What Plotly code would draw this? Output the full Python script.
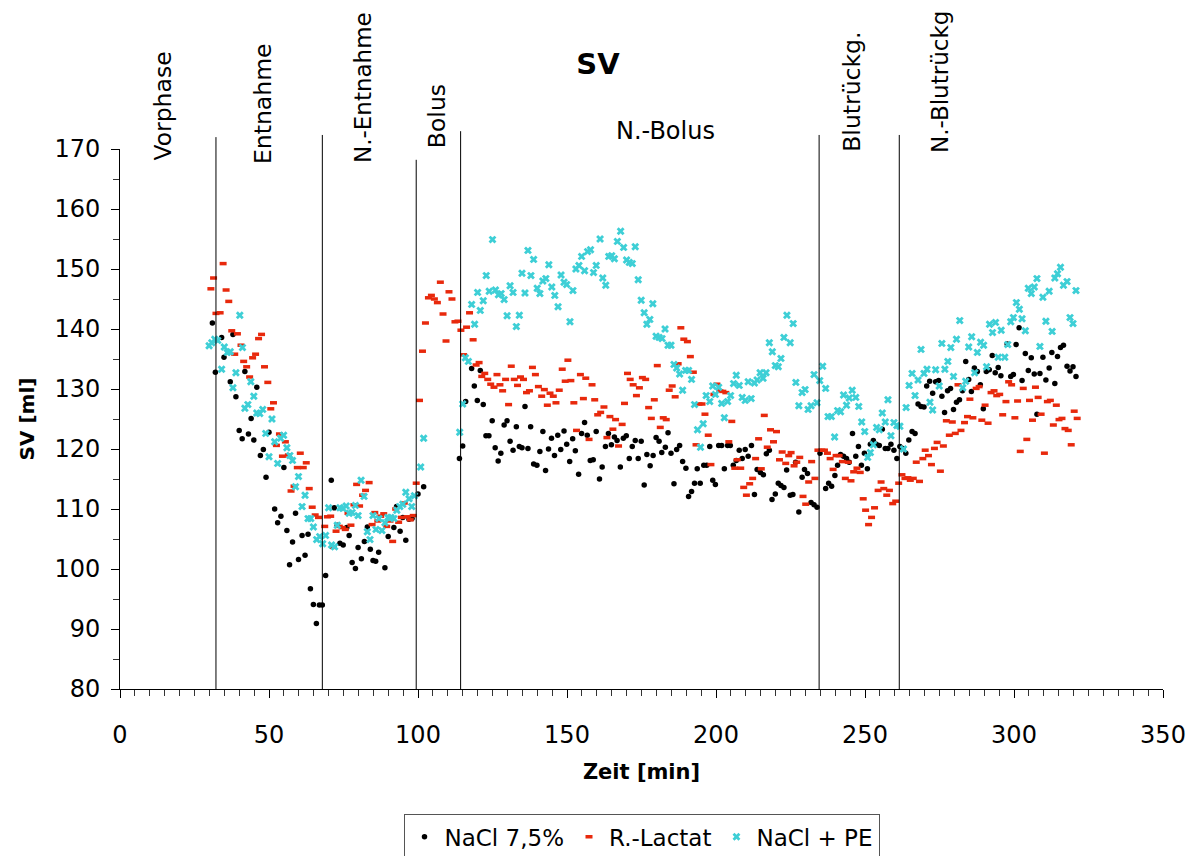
import plotly.graph_objects as go

# ---------------- data ----------------
nacl_t = [31.0, 32.0, 34.1, 34.9, 37.0, 37.9, 38.9, 40.0, 41.0, 41.9, 43.1, 44.0, 44.9, 45.9, 47.1, 48.1,
          49.0, 50.0, 51.9, 52.9, 54.0, 55.0, 56.0, 56.9, 57.9, 58.9, 59.9, 61.1, 62.1, 63.1, 63.9, 64.9,
          65.9, 66.9, 67.9, 69.0, 70.9, 71.9, 72.9, 73.8, 74.9, 76.1, 76.9, 77.9, 79.0, 79.9, 81.0, 82.0,
          83.0, 84.0, 84.9, 85.8, 86.8, 88.9, 90.0, 91.2, 91.9, 92.8, 94.0, 94.9, 95.9, 97.0, 98.0, 100.0,
          101.9, 113.9, 115.0, 116.0, 118.0, 118.9, 119.9, 120.9, 121.9, 122.8, 123.8, 124.9, 125.9, 126.9,
          127.8, 128.9, 129.9, 130.9, 131.9, 133.0, 134.0, 134.9, 135.9, 136.9, 137.8, 138.8, 139.9, 140.9,
          141.9, 142.8, 143.8, 144.8, 145.8, 146.9, 147.9, 149.0, 149.9, 150.9, 151.9, 152.8, 153.9, 154.9,
          155.9, 156.8, 157.8, 158.8, 159.8, 160.9, 161.8, 162.9, 163.9, 164.9, 165.9, 166.8, 167.9, 168.9,
          169.9, 170.9, 171.9, 172.9, 173.9, 174.9, 175.9, 176.8, 177.9, 178.9, 179.9, 180.9, 181.8, 183.0,
          183.9, 184.9, 185.9, 186.8, 187.8, 188.8, 189.9, 190.8, 191.8, 192.8, 193.7, 194.7, 195.9, 196.9,
          197.9, 198.9, 199.8, 200.9, 201.9, 202.8, 203.9, 204.8, 205.8, 206.8, 207.8, 208.8, 209.8, 210.8,
          211.9, 212.9, 213.8, 214.9, 215.9, 216.9, 217.9, 218.8, 219.9, 220.9, 221.8, 222.8, 223.7, 224.9,
          225.8, 226.7, 227.8, 228.9, 229.7, 230.7, 231.9, 232.9, 233.9, 234.9, 236.8, 237.8, 238.8, 239.9,
          240.8, 241.8, 242.8, 243.8, 244.7, 245.8, 246.9, 247.8, 248.8, 249.8, 250.8, 251.8, 252.8, 253.8,
          254.8, 255.8, 256.8, 257.7, 258.7, 259.7, 260.7, 261.7, 262.7, 263.7, 264.7, 265.8, 266.8, 267.8,
          268.8, 269.8, 270.7, 271.7, 272.7, 273.7, 274.7, 275.8, 276.7, 277.7, 278.7, 279.7, 280.7, 281.7,
          282.7, 283.8, 284.8, 285.7, 286.7, 287.7, 288.7, 289.7, 290.7, 291.7, 292.7, 293.7, 294.7, 295.6,
          297.7, 298.9, 299.8, 300.7, 301.7, 302.7, 303.8, 304.8, 305.8, 306.8, 307.7, 308.7, 309.7, 310.7,
          311.8, 312.7, 313.7, 314.6, 315.6, 316.6, 317.8, 318.8, 319.8, 320.8]
nacl_sv = [141.0, 132.8, 138.6, 135.3, 131.2, 139.1, 128.7, 123.1, 121.7, 132.9, 122.5, 125.1, 121.5, 130.3, 118.9, 119.9,
           115.3, 122.8, 110.0, 107.7, 108.8, 116.9, 106.4, 100.7, 104.5, 109.3, 101.6, 105.6, 102.3, 105.8, 96.7, 94.1,
           90.9, 94.0, 94.0, 98.9, 114.8, 110.2, 107.3, 104.3, 104.0, 106.9, 105.6, 101.1, 100.1, 103.6, 101.7, 104.6,
           107.0, 103.3, 101.4, 101.3, 102.8, 100.2, 105.4, 108.4, 106.9, 110.4, 106.3, 108.6, 104.8, 108.3, 108.4, 112.5,
           113.7, 118.4, 120.5, 127.9, 133.4, 130.5, 128.1, 133.1, 127.4, 122.2, 122.2, 124.7, 120.2, 118.0,
           119.3, 124.0, 124.7, 121.3, 119.8, 123.7, 120.4, 120.2, 127.1, 120.1, 123.7, 117.5, 117.3, 119.6,
           122.9, 116.4, 120.0, 121.8, 118.9, 122.3, 119.9, 123.0, 120.8, 117.9, 121.7, 119.7, 115.8, 122.6,
           124.4, 122.3, 118.1, 118.2, 122.9, 115.0, 117.0, 120.4, 122.6, 120.7, 122.0, 121.4, 117.0, 121.8,
           122.2, 118.4, 120.4, 121.4, 118.4, 121.3, 114.0, 119.1, 117.2, 118.9, 121.9, 121.3, 119.4, 120.3,
           122.7, 119.3, 114.2, 119.9, 120.6, 117.9, 116.8, 112.1, 112.9, 114.3, 116.7, 114.3, 117.3, 117.3,
           120.4, 114.8, 114.1, 120.6, 120.6, 116.7, 120.6, 120.6, 117.3, 118.1, 119.8, 118.4, 119.9, 118.8,
           120.6, 112.4, 116.6, 116.1, 115.7, 119.2, 119.8, 111.6, 112.5, 114.3, 113.9, 113.6, 116.5, 112.3,
           112.4, 117.8, 109.5, 115.3, 116.6, 115.9, 111.1, 110.7, 110.3, 119.3, 113.4, 114.3, 113.8, 115.6,
           117.3, 119.1, 118.8, 118.4, 117.8, 122.6, 118.8, 120.4, 117.3, 119.3, 116.7, 120.8, 121.4, 120.8,
           120.6, 123.3, 120.1, 120.1, 120.8, 119.8, 118.4, 120.4, 120.1, 119.3, 121.5, 122.9, 122.6, 127.5,
           127.1, 127.0, 130.5, 131.3, 129.3, 131.2, 131.4, 128.8, 126.1, 129.7, 130.1, 126.6, 127.8, 128.2,
           129.7, 134.6, 131.6, 129.6, 133.5, 132.9, 130.7, 126.7, 132.9, 133.2, 135.6, 132.7, 133.6, 132.2,
           137.5, 132.1, 132.4, 137.4, 140.2, 131.4, 135.9, 133.1, 135.2, 132.5, 125.8, 132.6, 135.3, 131.5,
           133.5, 136.1, 130.9, 135.4, 136.9, 137.3, 133.8, 133.0, 133.7, 132.1]

lactat_t = [30.5, 31.4, 32.2, 33.6, 34.6, 35.6, 36.5, 37.5, 38.5, 39.4, 40.6, 41.5, 42.5, 43.5, 44.5, 45.5,
            46.5, 47.5, 48.5, 49.6, 50.6, 51.5, 52.5, 53.5, 54.5, 55.5, 56.5, 57.4, 58.4, 59.5, 60.5, 61.5,
            62.5, 63.5, 64.5, 65.5, 66.6, 68.7, 69.6, 70.7, 71.6, 72.5, 73.6, 74.6, 75.6, 76.5, 77.5, 78.5,
            79.4, 80.4, 81.4, 82.4, 83.6, 84.6, 85.5, 86.5, 87.5, 88.5, 89.5, 90.6, 91.5, 92.5, 93.5, 94.4,
            95.4, 96.4, 97.4, 98.4, 99.4, 100.5, 101.5, 102.5, 103.5, 104.5, 105.5, 106.5, 107.5, 108.4, 109.4,
            110.4, 111.4, 112.4, 113.4, 114.4, 115.3, 116.3, 117.3, 118.5, 119.5, 120.5, 121.4, 122.4, 123.4,
            124.4, 125.5, 126.5, 127.5, 128.4, 129.4, 130.4, 131.3, 132.3, 133.4, 134.4, 135.4, 136.4, 137.4,
            138.4, 139.4, 140.4, 141.5, 142.4, 143.4, 144.3, 145.4, 146.3, 147.4, 148.4, 149.4, 150.3, 151.3,
            152.3, 153.2, 154.5, 155.5, 156.3, 157.4, 158.4, 159.3, 160.3, 161.3, 162.4, 163.4, 164.4, 165.4,
            166.3, 167.3, 168.5, 169.3, 170.3, 171.2, 172.2, 173.3, 174.3, 175.3, 176.4, 177.4, 178.3, 179.3,
            180.3, 181.3, 182.3, 183.3, 184.3, 185.3, 186.3, 187.3, 188.2, 189.2, 190.4, 191.4, 192.4, 193.3,
            194.3, 195.3, 196.3, 197.4, 198.3, 199.3, 200.3, 201.3, 202.3, 203.3, 204.3, 205.3, 206.3, 207.1,
            208.3, 209.3, 210.2, 211.3, 212.3, 213.3, 214.3, 215.2, 216.2, 217.2, 218.3, 219.3, 220.3, 221.3,
            222.2, 223.4, 224.4, 225.2, 226.2, 227.1, 228.1, 229.2, 230.1, 231.1, 232.1, 233.2, 234.2, 235.5,
            236.4, 237.4, 238.3, 239.3, 240.3, 241.3, 242.4, 243.4, 244.4, 245.3, 246.2, 247.3, 248.4, 249.4,
            250.2, 251.2, 252.2, 253.2, 254.4, 255.4, 256.3, 257.3, 258.2, 259.3, 260.3, 261.3, 262.4, 263.4,
            264.4, 265.2, 266.2, 267.2, 268.3, 269.4, 270.2, 271.3, 272.3, 273.3, 274.2, 275.3, 276.3, 277.3,
            278.3, 279.3, 280.3, 281.2, 282.2, 283.4, 284.4, 285.2, 286.2, 287.3, 288.3, 289.2, 290.3, 291.3,
            292.3, 293.3, 294.2, 295.2, 296.2, 297.3, 298.2, 299.2, 300.3, 301.2, 302.1, 303.1, 304.3, 305.2,
            306.2, 307.2, 308.1, 309.1, 310.2, 311.2, 312.2, 313.2, 314.2, 315.1, 316.1, 317.1, 318.2, 319.2,
            320.2, 321.2]
lactat_sv = [146.7, 148.5, 142.6, 142.7, 150.9, 146.5, 144.6, 139.7, 135.8, 139.2, 137.3, 134.6, 133.7, 132.0, 135.2, 135.8,
             138.4, 139.1, 133.7, 131.1, 126.7, 127.7, 120.6, 122.5, 118.8, 121.2, 119.0, 113.0, 113.8, 116.9, 119.3, 116.9,
             117.7, 113.4, 110.3, 109.0, 108.6, 107.1, 108.7, 108.8, 103.6, 106.3, 107.1, 106.9, 106.6, 109.3, 107.3, 110.7,
             114.1, 110.5, 112.3, 113.1, 114.4, 107.4, 109.4, 108.0, 108.8, 109.2, 107.1, 108.0, 104.6, 110.0, 107.8, 108.6,
             111.0, 108.7, 108.2, 108.9, 114.3, 128.1, 136.3, 141.0, 145.2, 145.6, 145.0, 144.4, 147.8, 142.5, 138.0,
             146.2, 145.0, 141.2, 141.3, 139.8, 135.7, 140.3, 142.7, 138.2, 134.0, 134.4, 132.1, 132.6, 131.6,
             130.8, 130.3, 132.4, 130.7, 129.7, 131.6, 127.4, 133.8, 131.6, 130.6, 132.0, 131.6, 129.4, 129.7,
             133.6, 132.4, 130.4, 128.8, 129.9, 127.3, 129.3, 128.8, 127.7, 129.8, 133.3, 131.3, 134.8, 131.4,
             127.7, 123.1, 132.4, 128.4, 131.8, 121.6, 130.7, 128.2, 125.7, 126.1, 127.0, 121.9, 125.4, 123.3,
             124.9, 120.5, 124.1, 127.6, 132.6, 131.6, 130.7, 128.9, 130.2, 131.9, 131.6, 126.9, 125.1, 128.2,
             133.9, 123.6, 125.2, 124.9, 129.8, 130.5, 128.7, 134.2, 140.2, 138.3, 137.9, 135.4, 132.8, 120.7,
             127.5, 127.5, 125.8, 122.3, 117.4, 129.1, 130.8, 129.7, 129.6, 129.4, 121.2, 124.6, 116.8, 118.2,
             116.8, 113.6, 112.3, 114.2, 115.1, 118.4, 121.7, 116.7, 125.6, 120.3, 123.2, 121.2, 122.9, 118.2,
             119.5, 117.6, 118.9, 119.4, 117.2, 117.8, 118.6, 112.1, 110.8, 114.5, 117.9, 115.1, 119.8, 119.8,
             119.8, 119.3, 118.4, 116.6, 118.9, 118.9, 117.9, 115.1, 117.8, 114.7, 116.2, 116.8, 116.1, 111.7,
             109.8, 107.4, 108.6, 110.2, 113.1, 114.5, 113.4, 112.3, 113.1, 110.9, 111.3, 114.3, 115.7, 115.1,
             115.2, 114.8, 115.1, 117.8, 114.6, 118.4, 119.8, 118.9, 117.4, 120.1, 121.1, 116.3, 120.5, 124.7,
             122.3, 124.5, 122.6, 130.7, 123.1, 124.4, 125.4, 128.3, 125.2, 130.1, 130.4, 124.8, 127.3, 124.3,
             129.4, 129.7, 128.9, 129.1, 125.7, 127.9, 131.2, 130.7, 125.2, 128.0, 119.6, 130.1, 121.6, 128.1,
             124.8, 130.3, 128.6, 125.8, 119.3, 127.9, 128.1, 124.0, 127.3, 124.9, 125.1, 123.4, 123.1, 120.7,
             126.3, 125.1]

pe_t = [29.9, 30.8, 31.8, 32.8, 34.1, 35.0, 36.0, 37.0, 37.9, 38.9, 40.2, 41.1, 41.9, 42.9, 43.9, 44.9,
        45.9, 46.9, 47.9, 48.9, 50.0, 51.0, 51.9, 52.9, 53.9, 54.9, 56.0, 57.0, 57.9, 58.9, 59.9, 61.1,
        62.1, 63.1, 64.0, 64.9, 66.0, 67.0, 68.0, 69.0, 70.0, 71.0, 72.0, 72.9, 73.8, 74.8, 75.9, 76.9,
        77.9, 79.0, 79.9, 80.9, 81.9, 83.0, 83.9, 84.9, 85.9, 86.9, 87.9, 88.9, 89.9, 90.9, 91.9, 92.9,
        93.9, 94.9, 95.9, 97.0, 97.9, 98.8, 100.9, 101.9, 114.0, 115.0, 115.9, 116.9, 118.0, 119.0, 120.0,
        120.9, 121.9, 122.9, 123.9, 125.0, 126.0, 127.0, 127.9, 128.9, 129.9, 130.9, 131.9, 133.0, 134.0,
        134.9, 135.9, 136.9, 137.9, 138.8, 140.0, 140.9, 141.9, 142.9, 143.9, 144.9, 145.9, 147.0, 148.0,
        149.0, 149.9, 151.0, 152.0, 153.0, 154.0, 154.9, 155.9, 156.9, 157.9, 158.9, 159.8, 161.1, 162.0,
        163.0, 164.0, 165.0, 165.9, 166.9, 168.0, 169.0, 170.0, 170.9, 171.9, 172.9, 173.9, 174.9, 175.9,
        176.8, 177.8, 178.8, 179.9, 180.9, 181.9, 182.9, 183.9, 184.9, 185.9, 186.8, 187.8, 188.8, 189.8,
        190.8, 191.8, 192.8, 193.8, 194.8, 195.7, 196.7, 197.9, 198.9, 199.8, 200.9, 201.9, 202.8, 203.9,
        204.9, 205.9, 206.8, 207.8, 208.8, 209.8, 210.8, 211.8, 212.9, 213.8, 214.8, 215.8, 216.8, 217.9,
        218.9, 219.9, 220.9, 221.8, 222.8, 223.8, 224.9, 225.9, 226.8, 227.8, 228.9, 229.9, 230.9, 231.9,
        232.9, 233.9, 234.8, 235.8, 236.8, 237.6, 238.7, 239.8, 240.8, 241.8, 242.8, 243.8, 244.7, 245.7,
        246.9, 247.9, 248.9, 249.9, 250.9, 251.8, 252.8, 253.9, 254.8, 255.8, 256.8, 257.7, 258.7, 259.7,
        260.7, 261.7, 262.9, 263.8, 264.8, 265.8, 266.8, 267.8, 268.8, 269.8, 270.8, 271.8, 272.7, 273.7,
        274.9, 275.8, 276.8, 277.8, 278.8, 279.7, 280.7, 281.8, 282.8, 283.8, 284.8, 285.8, 286.8, 287.7,
        288.8, 289.8, 290.8, 291.8, 292.8, 293.8, 294.7, 295.7, 296.9, 297.9, 298.9, 299.8, 300.8, 301.8,
        302.7, 303.8, 304.8, 305.8, 306.8, 307.7, 308.7, 309.7, 310.7, 311.8, 312.8, 313.7, 314.6, 315.6,
        316.6, 317.8, 318.8, 319.8, 320.8]
pe_sv = [137.2, 137.7, 138.3, 138.1, 133.3, 137.0, 136.1, 136.2, 130.2, 132.7, 142.3, 136.9, 126.8, 127.4, 131.2, 128.8,
         126.0, 125.9, 126.6, 122.6, 118.7, 125.0, 121.2, 117.6, 121.8, 122.3, 120.2, 118.9, 118.1, 113.7, 115.4, 110.4,
         112.3, 108.4, 108.4, 107.0, 104.9, 105.4, 104.2, 105.6, 110.2, 104.0, 103.7, 107.3, 110.2, 110.1, 110.5, 109.3,
         109.4, 110.6, 108.9, 114.8, 112.1, 106.2, 104.9, 108.9, 106.6, 108.4, 106.4, 107.7, 108.6, 108.6, 108.4, 109.8,
         110.4, 110.8, 112.8, 111.7, 110.4, 112.2, 117.0, 121.8, 122.8, 127.5, 135.2, 134.6, 144.1, 140.8, 146.1,
         143.1, 144.7, 148.9, 146.3, 154.9, 146.5, 145.7, 145.9, 144.9, 142.2, 147.2, 146.1, 140.4, 142.3,
         149.3, 146.0, 153.1, 148.9, 151.6, 146.8, 145.9, 148.0, 148.4, 150.7, 147.0, 145.6, 143.7, 149.0,
         147.8, 147.4, 141.2, 146.4, 150.0, 150.6, 152.1, 149.7, 152.9, 153.2, 149.4, 150.6, 155.0, 148.5,
         147.3, 152.1, 152.2, 151.7, 154.6, 156.3, 153.6, 151.5, 151.1, 150.9, 153.7, 148.2, 144.8, 142.7,
         140.8, 141.6, 144.2, 138.8, 138.6, 138.4, 140.0, 137.3, 137.3, 134.1, 133.5, 132.5, 129.8, 133.1,
         133.1, 131.6, 127.4, 123.2, 120.3, 124.2, 128.9, 127.9, 130.5, 129.1, 130.3, 127.6, 125.2, 127.9,
         128.9, 130.9, 132.3, 130.6, 128.6, 128.1, 131.2, 128.4, 131.0, 131.5, 132.7, 131.8, 132.7, 137.7,
         136.2, 133.9, 133.7, 135.1, 138.6, 142.3, 137.7, 140.9, 131.1, 127.2, 129.4, 129.9, 126.6, 127.2,
         132.4, 127.7, 131.4, 133.8, 130.1, 125.4, 125.4, 122.0, 126.4, 126.2, 129.0, 127.3, 128.5, 129.8,
         128.6, 127.1, 124.5, 122.9, 118.6, 119.4, 120.7, 123.6, 123.2, 126.0, 124.5, 128.2, 122.2, 124.4,
         123.9, 123.8, 120.0, 126.9, 130.6, 132.6, 128.9, 131.5, 136.6, 132.6, 133.3, 127.8, 126.5, 133.2,
         130.5, 137.6, 133.3, 134.6, 136.9, 132.1, 138.3, 141.4, 130.2, 131.3, 137.0, 138.7, 132.7, 136.1,
         137.8, 137.3, 133.7, 140.8, 139.4, 141.1, 135.3, 139.8, 135.3, 137.4, 141.2, 141.9, 144.4, 143.3,
         141.7, 139.7, 146.8, 145.9, 147.0, 148.4, 137.1, 145.3, 141.3, 146.3, 139.6, 148.5, 149.2, 150.3,
         147.3, 147.9, 141.9, 140.9, 146.4]

# phase boundaries (min) and phase labels
phase_bounds = [32.2, 67.9, 99.4, 114.3, 234.6, 261.5]
phase_names = ["Vorphase", "Entnahme", "N.-Entnahme", "Bolus", "N.-Bolus", "Blutrückg.", "N.-Blutrückg"]
phase_label_x = [14.3, 47.9, 81.5, 106.4, 182.9, 245.6, 275.2]

series_names = ["NaCl 7,5%", "R.-Lactat", "NaCl + PE"]
x_ticks = [0, 50, 100, 150, 200, 250, 300, 350]
y_ticks = [80, 90, 100, 110, 120, 130, 140, 150, 160, 170]

# ---------------- styling ----------------
FONT = "DejaVu Sans"
BLACK = "#000000"
RED = "#e8290c"
CYAN = "#3ecfd6"
W, H = 1196, 848   # page body has an 8px margin inside the 1204x856 window

fig = go.Figure()
fig.add_trace(go.Scatter(x=nacl_t, y=nacl_sv, mode="markers", name=series_names[0],
                         marker=dict(symbol="circle", size=5.5, color=BLACK, line=dict(width=0))))
fig.add_trace(go.Scatter(x=lactat_t, y=lactat_sv, mode="markers", name=series_names[1],
                         marker=dict(symbol="line-ew", size=5, color=RED, line=dict(width=3.5, color=RED))))
fig.add_trace(go.Scatter(x=pe_t, y=pe_sv, mode="markers", name=series_names[2],
                         marker=dict(symbol="x", size=7, color=CYAN, line=dict(width=0))))

# phase boundary lines (extend slightly above the plot area)
line_tops = [1.022, 1.026, 0.980, 1.033, 1.026, 1.026]
shapes = []
for xb, top in zip(phase_bounds, line_tops):
    shapes.append(dict(type="line", xref="x", yref="paper", x0=xb, x1=xb, y0=0, y1=top,
                       line=dict(color="black", width=1)))

label_y = [0.975, 0.969, 0.971, 0.998, 1.033, 0.991, 0.989]
label_size = [23.5, 23.5, 23, 23.5, 24, 23.5, 23]
annotations = []
for name, lx, ly, fs in zip(phase_names, phase_label_x, label_y, label_size):
    if name == "N.-Bolus":
        annotations.append(dict(x=lx, y=ly, xref="x", yref="paper", text=name, showarrow=False,
                                xanchor="center", yanchor="middle",
                                font=dict(family=FONT, size=fs, color="black")))
    else:
        annotations.append(dict(x=lx, y=ly, xref="x", yref="paper", text=name, showarrow=False,
                                textangle=-90, xanchor="center", yanchor="bottom",
                                font=dict(family=FONT, size=fs, color="black")))

axis_common = dict(showgrid=False, zeroline=False, showline=True, linecolor="black", linewidth=1,
                   ticks="outside", ticklen=8, tickwidth=1, tickcolor="black", automargin=False,
                   tickfont=dict(family=FONT, size=24, color="black"))

fig.update_layout(
    width=W, height=H,
    margin=dict(l=112, r=41, t=141, b=167, pad=0, autoexpand=False),
    paper_bgcolor="white", plot_bgcolor="white",
    font=dict(family=FONT, size=22, color="black"),
    title=dict(text="SV", x=(598 - 8) / W, xref="container", xanchor="center",
               y=1 - (64 - 8) / H, yref="container", yanchor="middle",
               font=dict(family=FONT, size=29, color="black", weight="bold")),
    xaxis=dict(range=[0, 350], tickvals=x_ticks, ticklabelstandoff=16,
               minor=dict(dtick=5, ticks="outside", ticklen=6, tickcolor="#333333"),
               title=dict(text="Zeit [min]", standoff=16,
                          font=dict(family=FONT, size=21, color="black", weight="bold")),
               **axis_common),
    yaxis=dict(range=[80, 170], tickvals=y_ticks, ticklabelstandoff=6,
               minor=dict(dtick=5, ticks="outside", ticklen=6, tickcolor="#333333"),
               title=dict(text="SV [ml]", standoff=14,
                          font=dict(family=FONT, size=20, color="black", weight="bold")),
               **axis_common),
    xaxis2=dict(range=[0, 350], tickvals=x_ticks, overlaying="x", anchor="y", side="bottom",
                ticks="inside", ticklen=8, tickcolor="black", showticklabels=False, automargin=False,
                showline=False, showgrid=False, zeroline=False),
    yaxis2=dict(range=[80, 170], tickvals=y_ticks, overlaying="y", anchor="x", side="left",
                ticks="inside", ticklen=8, tickcolor="black", showticklabels=False, automargin=False,
                showline=False, showgrid=False, zeroline=False),
    legend=dict(orientation="h", x=0.5, xanchor="center", y=-0.232, yanchor="top",
                bordercolor="#555555", borderwidth=1, bgcolor="white",
                font=dict(family=FONT, size=23, color="black"), itemsizing="trace"),
    shapes=shapes,
    annotations=annotations,
    showlegend=True,
)

fig.write_html("out.html")
